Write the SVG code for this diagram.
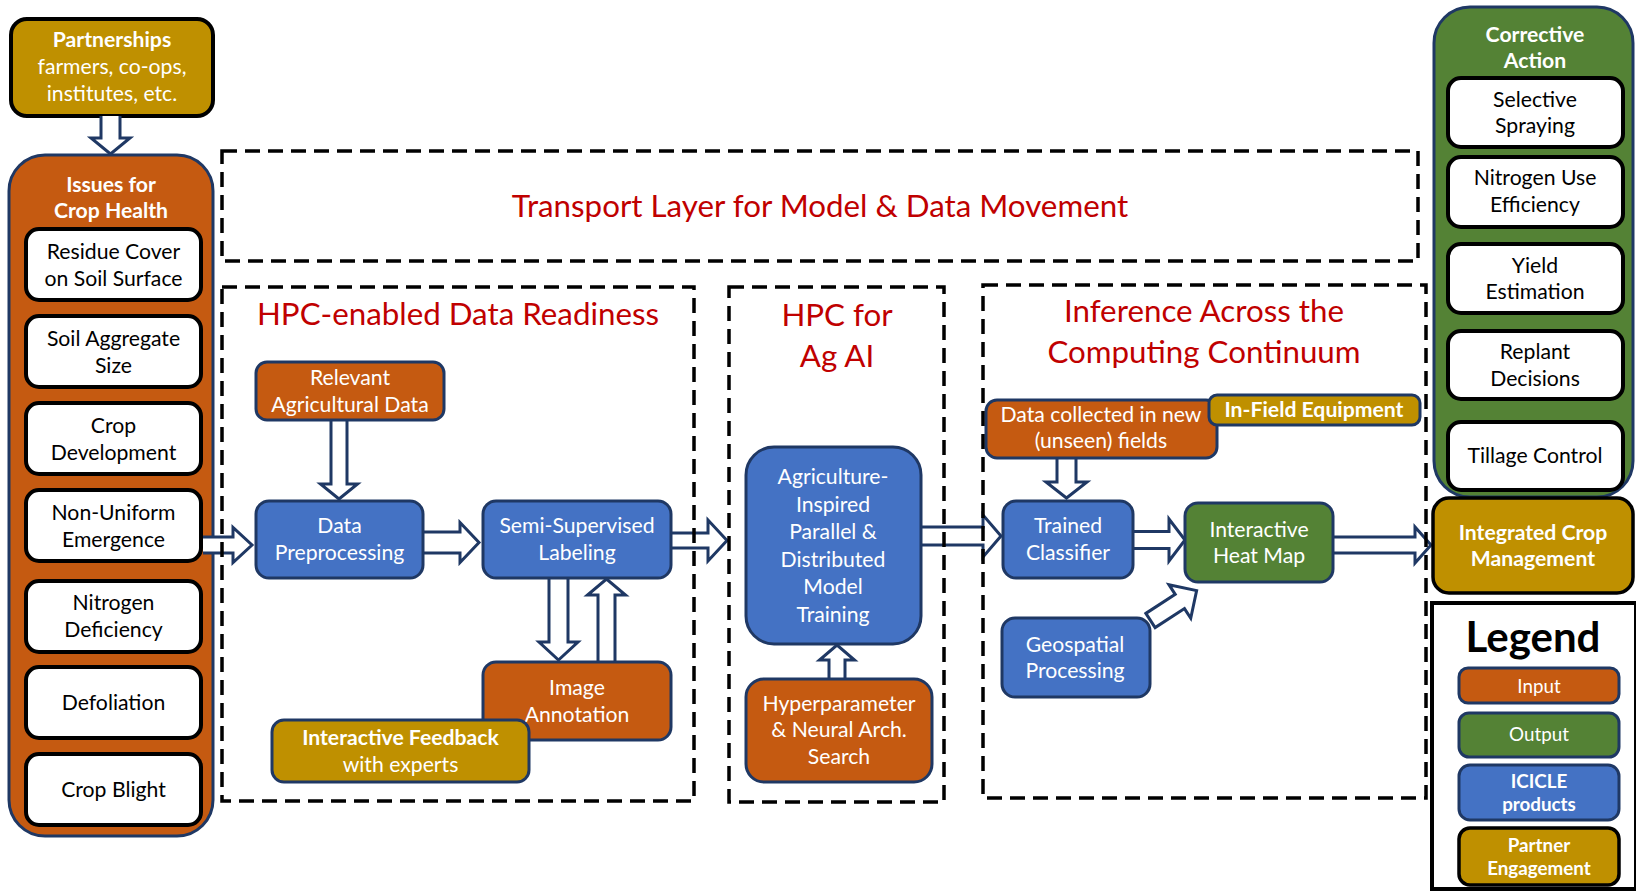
<svg xmlns="http://www.w3.org/2000/svg" width="1636" height="891" viewBox="0 0 1636 891">
<style>
text{font-family:Lato,"Liberation Sans",sans-serif;text-anchor:middle}
.w{fill:#fff}.k{fill:#000}
.b{font-weight:bold}
.f{font-size:21.2px}
.s{font-size:18.8px}
.ti{fill:#C00000;font-size:31.3px}
.or{fill:#C55A11;stroke:#1F3864;stroke-width:3}
.bl{fill:#4472C4;stroke:#1F3864;stroke-width:3}
.gr{fill:#548235;stroke:#1F3864;stroke-width:3}
.gd{fill:#BF9000;stroke:#1F3864;stroke-width:3}
.gdk{fill:#BF9000;stroke:#000;stroke-width:3.5}
.wb{fill:#fff;stroke:#000;stroke-width:4}
.arr{fill:#fff;stroke:#1F3864;stroke-width:3;stroke-linejoin:miter}
.dash{fill:none;stroke:#000;stroke-width:3.5;stroke-dasharray:15 8}
</style>

<g id="issues">
<rect class="or" x="9" y="155" width="204" height="681" rx="36"/>
<text class="w b f" x="111" y="192">Issues for</text>
<text class="w b f" x="111" y="218">Crop Health</text>
<rect class="wb" x="26" y="229" width="175" height="71" rx="13"/>
<text class="k f" x="113.5" y="259">Residue Cover</text>
<text class="k f" x="113.5" y="286">on Soil Surface</text>
<rect class="wb" x="26" y="316" width="175" height="71" rx="13"/>
<text class="k f" x="113.5" y="346">Soil Aggregate</text>
<text class="k f" x="113.5" y="373">Size</text>
<rect class="wb" x="26" y="403" width="175" height="71" rx="13"/>
<text class="k f" x="113.5" y="433">Crop</text>
<text class="k f" x="113.5" y="460">Development</text>
<rect class="wb" x="26" y="490" width="175" height="71" rx="13"/>
<text class="k f" x="113.5" y="520">Non-Uniform</text>
<text class="k f" x="113.5" y="547">Emergence</text>
<rect class="wb" x="26" y="581" width="175" height="71" rx="13"/>
<text class="k f" x="113.5" y="610">Nitrogen</text>
<text class="k f" x="113.5" y="637">Deficiency</text>
<rect class="wb" x="26" y="667" width="175" height="71" rx="13"/>
<text class="k f" x="113.5" y="710">Defoliation</text>
<rect class="wb" x="26" y="754" width="175" height="71" rx="13"/>
<text class="k f" x="113.5" y="797">Crop Blight</text>
</g>

<g id="partnerships">
<rect class="gdk" x="11" y="19" width="202" height="97" rx="16" style="stroke-width:4"/>
<text class="w b f" x="112" y="47">Partnerships</text>
<text class="w f" x="112" y="74">farmers, co-ops,</text>
<text class="w f" x="112" y="101">institutes, etc.</text>
</g>

<g id="connectors">
<path class="arr" d="M101,116 L101,138 L91,138 L110.5,154 L130,138 L120,138 L120,116"/>
<path class="arr" d="M203,537 L233,537 L233,527.5 L252,545 L233,562.5 L233,553 L203,553"/>
<path class="arr" d="M331,420 L331,484 L320.5,484 L339,499 L357.5,484 L347,484 L347,420"/>
<path class="arr" d="M423,532 L460,532 L460,522.5 L479,542.5 L460,562.5 L460,553 L423,553"/>
<path class="arr" d="M671,533 L708,533 L708,520 L727,540.5 L708,561 L708,548 L671,548"/>
<path class="arr" d="M549,578 L549,642 L539,642 L558.5,660 L578,642 L568,642 L568,578"/>
<path class="arr" d="M598,662 L598,595 L587.5,595 L606.5,579 L625.5,595 L615,595 L615,662"/>
<path class="arr" d="M829,679 L829,660 L819.5,660 L837,645 L854.5,660 L845,660 L845,679"/>
<path class="arr" d="M921,527 L983,527 L983,515 L1001,536 L983,557 L983,545 L921,545"/>
<path class="arr" d="M1057,458 L1057,482 L1046,482 L1066.5,498 L1087,482 L1076,482 L1076,458"/>
<path class="arr" d="M1133,531.5 L1169,531.5 L1169,519 L1185,540 L1169,561 L1169,548.5 L1133,548.5"/>
<path class="arr" transform="translate(1150.5,620.5) rotate(-33)" d="M0,-8.5 L35,-8.5 L35,-20 L55,0 L35,20 L35,8.5 L0,8.5 Z"/>
<path class="arr" d="M1333,537 L1415,537 L1415,527 L1431,545 L1415,563 L1415,553 L1333,553"/>
</g>

<g id="relevant-data">
<rect class="or" x="256" y="362" width="188" height="58" rx="11"/>
<text class="w f" x="350" y="385">Relevant</text>
<text class="w f" x="350" y="412">Agricultural Data</text>
</g>
<g id="data-preprocessing">
<rect class="bl" x="256" y="501" width="167" height="77" rx="13"/>
<text class="w f" x="339.5" y="533">Data</text>
<text class="w f" x="339.5" y="560">Preprocessing</text>
</g>
<g id="semi-supervised">
<rect class="bl" x="483" y="501" width="188" height="77" rx="13"/>
<text class="w f" x="577" y="533">Semi-Supervised</text>
<text class="w f" x="577" y="560">Labeling</text>
</g>
<g id="image-annotation">
<rect class="or" x="483" y="662" width="188" height="78" rx="13"/>
<text class="w f" x="577" y="695">Image</text>
<text class="w f" x="577" y="722">Annotation</text>
</g>
<g id="interactive-feedback">
<rect class="gd" x="272" y="720" width="257" height="62" rx="12"/>
<text class="w b f" x="400.5" y="745">Interactive Feedback</text>
<text class="w f" x="400.5" y="772">with experts</text>
</g>
<g id="model-training">
<rect class="bl" x="746" y="447" width="175" height="197" rx="28"/>
<text class="w f" x="833" y="484">Agriculture-</text>
<text class="w f" x="833" y="512">Inspired</text>
<text class="w f" x="833" y="539">Parallel &amp;</text>
<text class="w f" x="833" y="567">Distributed</text>
<text class="w f" x="833" y="594">Model</text>
<text class="w f" x="833" y="622">Training</text>
</g>
<g id="hyperparameter">
<rect class="or" x="746" y="679" width="186" height="103" rx="18"/>
<text class="w f" x="839" y="711">Hyperparameter</text>
<text class="w f" x="839" y="737">&amp; Neural Arch.</text>
<text class="w f" x="839" y="764">Search</text>
</g>
<g id="data-collected">
<rect class="or" x="986" y="400" width="231" height="58" rx="11"/>
<text class="w f" x="1101" y="422">Data collected in new</text>
<text class="w f" x="1101" y="448">(unseen) fields</text>
</g>
<g id="in-field-equipment">
<rect class="gd" x="1209" y="395" width="211" height="30" rx="8"/>
<text class="w b f" x="1314" y="417">In-Field Equipment</text>
</g>
<g id="trained-classifier">
<rect class="bl" x="1003" y="501" width="130" height="77" rx="13"/>
<text class="w f" x="1068" y="533">Trained</text>
<text class="w f" x="1068" y="560">Classifier</text>
</g>
<g id="heat-map">
<rect class="gr" x="1185" y="503" width="148" height="79" rx="13"/>
<text class="w f" x="1259" y="537">Interactive</text>
<text class="w f" x="1259" y="563">Heat Map</text>
</g>
<g id="geospatial">
<rect class="bl" x="1002" y="618" width="148" height="79" rx="13"/>
<text class="w f" x="1075" y="652">Geospatial</text>
<text class="w f" x="1075" y="678">Processing</text>
</g>

<g id="corrective-action">
<rect class="gr" x="1434" y="7" width="199" height="490" rx="36"/>
<text class="w b f" x="1535" y="42">Corrective</text>
<text class="w b f" x="1535" y="68">Action</text>
<rect class="wb" x="1448" y="78" width="175" height="69" rx="13"/>
<text class="k f" x="1535" y="107">Selective</text>
<text class="k f" x="1535" y="133">Spraying</text>
<rect class="wb" x="1448" y="157" width="175" height="70" rx="13"/>
<text class="k f" x="1535" y="185">Nitrogen Use</text>
<text class="k f" x="1535" y="212">Efficiency</text>
<rect class="wb" x="1448" y="244" width="175" height="69" rx="13"/>
<text class="k f" x="1535" y="273">Yield</text>
<text class="k f" x="1535" y="299">Estimation</text>
<rect class="wb" x="1448" y="331" width="175" height="68" rx="13"/>
<text class="k f" x="1535" y="359">Replant</text>
<text class="k f" x="1535" y="386">Decisions</text>
<rect class="wb" x="1448" y="422" width="175" height="68" rx="13"/>
<text class="k f" x="1535" y="463">Tillage Control</text>
</g>

<g id="integrated-crop-management">
<rect class="gdk" x="1433" y="498" width="200" height="95" rx="16"/>
<text class="w b f" x="1533" y="540">Integrated Crop</text>
<text class="w b f" x="1533" y="566">Management</text>
</g>

<g id="legend">
<rect x="1432" y="603" width="204" height="286" fill="#fff" stroke="#000" stroke-width="4"/>
<text class="k b" x="1533" y="652" style="font-size:42px">Legend</text>
<rect class="or" x="1459" y="668" width="160" height="35" rx="9"/>
<text class="w s" x="1539" y="693">Input</text>
<rect class="gr" x="1459" y="713" width="160" height="44" rx="10"/>
<text class="w s" x="1539" y="741">Output</text>
<rect class="bl" x="1459" y="765" width="160" height="55" rx="11"/>
<text class="w b s" x="1539" y="788">ICICLE</text>
<text class="w b s" x="1539" y="811">products</text>
<rect class="gdk" x="1459" y="828" width="160" height="57" rx="11"/>
<text class="w b s" x="1539" y="852">Partner</text>
<text class="w b s" x="1539" y="875">Engagement</text>
</g>

<g id="transport-layer">
<rect class="dash" x="222" y="151" width="1196" height="110"/>
<text class="ti" x="820" y="217">Transport Layer for Model &amp; Data Movement</text>
</g>
<g id="data-readiness">
<rect class="dash" x="222" y="287" width="472" height="514"/>
<text class="ti" x="458" y="325">HPC-enabled Data Readiness</text>
</g>
<g id="hpc-ag-ai">
<rect class="dash" x="729" y="287" width="215" height="515"/>
<text class="ti" x="837" y="326">HPC for</text>
<text class="ti" x="837" y="367">Ag AI</text>
</g>
<g id="inference">
<rect class="dash" x="983" y="285" width="443" height="513"/>
<text class="ti" x="1204" y="322">Inference Across the</text>
<text class="ti" x="1204" y="363">Computing Continuum</text>
</g>
</svg>
